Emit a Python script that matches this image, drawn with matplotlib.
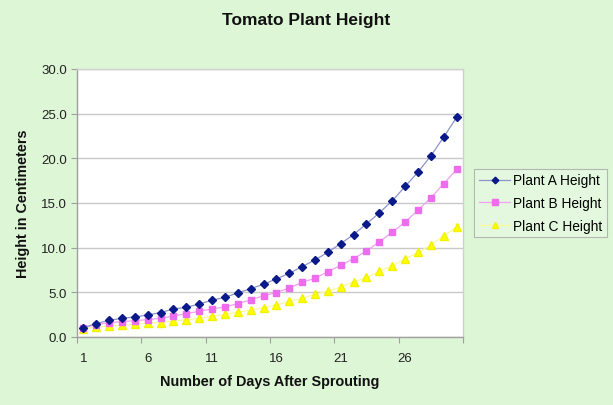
import matplotlib
matplotlib.use("Agg")
import matplotlib.pyplot as plt
from matplotlib.ticker import FixedLocator, NullFormatter

days = list(range(1, 31))
plant_a = [1.05, 1.5, 1.87, 2.09, 2.24, 2.47, 2.73, 3.14, 3.32, 3.7,
           4.11, 4.45, 4.93, 5.42, 5.9, 6.5, 7.13, 7.88, 8.63, 9.49,
           10.46, 11.47, 12.66, 13.9, 15.24, 16.85, 18.45, 20.28, 22.38, 24.58]
plant_b = [1.05, 1.38, 1.6, 1.72, 1.83, 1.94, 2.09, 2.35, 2.61, 2.88,
           3.14, 3.36, 3.74, 4.15, 4.63, 4.97, 5.49, 6.13, 6.57, 7.32,
           8.03, 8.78, 9.64, 10.65, 11.73, 12.85, 14.2, 15.58, 17.15, 18.75]
plant_c = [0.95, 1.1, 1.22, 1.3, 1.44, 1.55, 1.62, 1.78, 1.92, 2.11,
           2.3, 2.52, 2.78, 3.01, 3.27, 3.61, 3.98, 4.35, 4.76, 5.14,
           5.59, 6.15, 6.67, 7.34, 7.98, 8.72, 9.47, 10.29, 11.34, 12.27]
series_names = ["Plant A Height", "Plant B Height", "Plant C Height"]
x_tick_labels = ["1", "6", "11", "16", "21", "26"]
y_ticks = [0, 5, 10, 15, 20, 25, 30]

bg = "#DDF6D5"
plt.rcParams['font.family'] = ['Liberation Sans', 'DejaVu Sans']

fig = plt.figure(figsize=(6.13, 4.06), dpi=100, facecolor=bg)
ax = fig.add_axes([0.1256, 0.1675, 0.6297, 0.6601])
ax.set_facecolor("white")

ax.plot(days, plant_a, color="#8E94C8", lw=0.9, marker="D", ms=4.2,
        mfc="#0A1A8A", mec="#0A1A8A", label=series_names[0], zorder=5)
ax.plot(days, plant_b, color="#F2A0F2", lw=0.9, marker="s", ms=4.6,
        mfc="#EE6CEE", mec="#EE6CEE", label=series_names[1], zorder=4)
ax.plot(days, plant_c, color="#FAFA9A", lw=0.9, marker="^", ms=5.2,
        mfc="#FFFF00", mec="#F2F200", label=series_names[2], zorder=3)

ax.set_xlim(0.5, 30.5)
ax.set_ylim(0, 30)
ax.set_yticks(y_ticks)
ax.set_yticklabels([f"{v:.1f}" for v in y_ticks], fontsize=9.5, color="#222222")
ax.yaxis.grid(True, color="#C8C8C8", lw=1.0)
ax.set_axisbelow(True)

ax.xaxis.set_major_locator(FixedLocator([0.5 + 5 * i for i in range(7)]))
ax.xaxis.set_major_formatter(NullFormatter())
ax.xaxis.set_minor_locator(FixedLocator([1 + 5 * i for i in range(6)]))
ax.set_xticklabels(x_tick_labels, minor=True, fontsize=9.5, color="#222222")
ax.tick_params(axis="x", which="minor", length=0, pad=11)
ax.tick_params(axis="x", which="major", length=4, color="#A0A0A0", direction="out")
ax.tick_params(axis="y", length=4, color="#A0A0A0", direction="out", pad=3)

for s in ["left", "bottom"]:
    ax.spines[s].set_color("#A0A0A0")
    ax.spines[s].set_linewidth(1.0)
for s in ["top", "right"]:
    ax.spines[s].set_color("#D0D0D0")
    ax.spines[s].set_linewidth(1.0)

ax.set_xlabel("Number of Days After Sprouting", fontsize=10.4, fontweight="bold",
              labelpad=7, color="#111111")
ax.set_ylabel("Height in Centimeters", fontsize=10.4, fontweight="bold",
              labelpad=8, color="#111111")
fig.text(0.5, 0.95, "Tomato Plant Height", ha="center", va="center",
         fontsize=12.5, fontweight="bold", color="#111111")

leg = ax.legend(loc="center left", bbox_to_anchor=(1.0, 0.5), fontsize=9.9,
                frameon=True, fancybox=False, borderpad=0.35, labelspacing=0.62,
                handlelength=2.3, handletextpad=0.2, borderaxespad=0.8,
                markerscale=0.8)
leg.get_frame().set_facecolor("#E6F9E2")
leg.get_frame().set_edgecolor("#A8A8A8")
leg.get_frame().set_linewidth(0.8)

fig.savefig("out.png", dpi=100, facecolor=bg)
